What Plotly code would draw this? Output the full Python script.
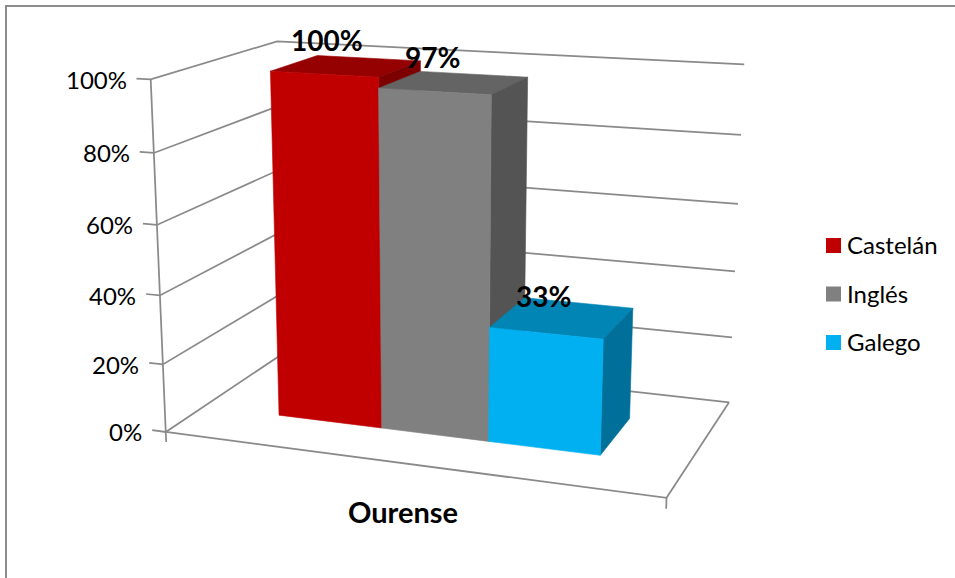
import numpy as np
import plotly.graph_objects as go

series = ["Castelán", "Inglés", "Galego"]
values = [1.00, 0.97, 0.33]
value_ticks = [0, 0.2, 0.4, 0.6, 0.8, 1.0]
tick_labels = ["0%", "20%", "40%", "60%", "80%", "100%"]
data_labels = ["100%", "97%", "33%"]
category = "Ourense"

front_colors = ["#C00000", "#808080", "#00B0F0"]
top_colors = ["#950000", "#646464", "#0085B5"]
side_colors = ["#7D0000", "#545454", "#00709A"]

# perspective of the 3D box: (left-right, front-back, value) -> canvas pixels
CAMERA = np.array([
    [438.176, 158.622, -22.9073, 165.76],
    [19.0911, -30.2716, -356.755, 431.981],
    [-0.0939214, 0.139842, -0.0520616, 1.0],
])
BAR_EDGES = [1 / 6, 7 / 18, 11 / 18, 5 / 6]
DEPTH_FRONT, DEPTH_BACK = 0.3, 0.7
GRID = "#8A8A8A"
FONT = "Lato"
LABEL_XSHIFT = [-20, -22, -19]
LABEL_YSHIFT = [26, 26, 22]


def project(X, Y, Z):
    u, v, w = CAMERA @ np.array([X, Y, Z, 1.0])
    return u / w, v / w


def polyline(points):
    xs, ys = zip(*[project(*p) for p in points])
    return list(xs), list(ys)


fig = go.Figure()

# walls and floor
gx, gy = [], []
for z in value_ticks:
    xs, ys = polyline([(-0.03, 0, z), (0, 0, z), (0, 1, z), (1, 1, z)])
    gx += xs + [None]
    gy += ys + [None]
for seg in [[(0, 0, 1), (0, 0, -0.03)], [(0, 0, 0), (1, 0, 0), (1, 1, 0)], [(1, 0, 0), (1, 0, -0.03)]]:
    xs, ys = polyline(seg)
    gx += xs + [None]
    gy += ys + [None]
fig.add_trace(go.Scatter(x=gx, y=gy, mode="lines", line=dict(color=GRID, width=1.75),
                         hoverinfo="skip", showlegend=False))

# bars, painted left to right
for i, name in enumerate(series):
    a, c, h = BAR_EDGES[i], BAR_EDGES[i + 1], values[i]
    faces = [
        ([(a, DEPTH_BACK, h), (c, DEPTH_BACK, h), (c, DEPTH_FRONT, h), (a, DEPTH_FRONT, h)], top_colors[i]),
        ([(c, DEPTH_FRONT, 0), (c, DEPTH_BACK, 0), (c, DEPTH_BACK, h), (c, DEPTH_FRONT, h)], side_colors[i]),
        ([(a, DEPTH_FRONT, 0), (c, DEPTH_FRONT, 0), (c, DEPTH_FRONT, h), (a, DEPTH_FRONT, h)], front_colors[i]),
    ]
    for pts, col in faces:
        xs, ys = polyline(pts)
        fig.add_trace(go.Scatter(x=xs + xs[:1], y=ys + ys[:1], mode="lines", fill="toself", fillcolor=col,
                                 line=dict(width=0.6, color=col), name=name, showlegend=False))

for i, lab in enumerate(data_labels):
    cx, cy = project((BAR_EDGES[i] + BAR_EDGES[i + 1]) / 2, 0.5, values[i])
    fig.add_annotation(x=cx, y=cy, text=f"<b>{lab}</b>", showarrow=False,
                       xshift=LABEL_XSHIFT[i], yshift=LABEL_YSHIFT[i],
                       font=dict(family=FONT, size=28, color="black"))

for z, lab in zip(value_ticks, tick_labels):
    tx, ty = project(0, 0, z)
    fig.add_annotation(x=tx, y=ty, text=lab, showarrow=False, xanchor="right", xshift=-22, yshift=0,
                       font=dict(family=FONT, size=24, color="black"))

fig.add_annotation(x=403, y=511, text=f"<b>{category}</b>", showarrow=False,
                   font=dict(family=FONT, size=29, color="black"))

# legend
for i, (name, col) in enumerate(zip(series, front_colors)):
    ly = 245.5 + i * 48.5
    fig.add_trace(go.Scatter(x=[833.5], y=[ly], mode="markers", name=name, showlegend=False,
                             marker=dict(symbol="square", size=15, color=col)))
    fig.add_annotation(x=845, y=ly, text=name, showarrow=False, xanchor="left", yshift=1,
                       font=dict(family=FONT, size=24, color="black"))

# chart frame, only top and left fall inside the picture
fig.add_shape(type="line", x0=5, y0=6, x1=955, y1=6, line=dict(color="#8C8C8C", width=2))
fig.add_shape(type="line", x0=6, y0=5, x1=6, y1=578, line=dict(color="#8C8C8C", width=2))

fig.update_layout(width=955, height=578, margin=dict(l=0, r=0, t=0, b=0),
                  paper_bgcolor="white", plot_bgcolor="white", showlegend=False,
                  xaxis=dict(range=[0, 955], visible=False), yaxis=dict(range=[578, 0], visible=False))
fig.write_html("out.html", config={"displayModeBar": False}, post_script="document.body.style.margin='0';")
